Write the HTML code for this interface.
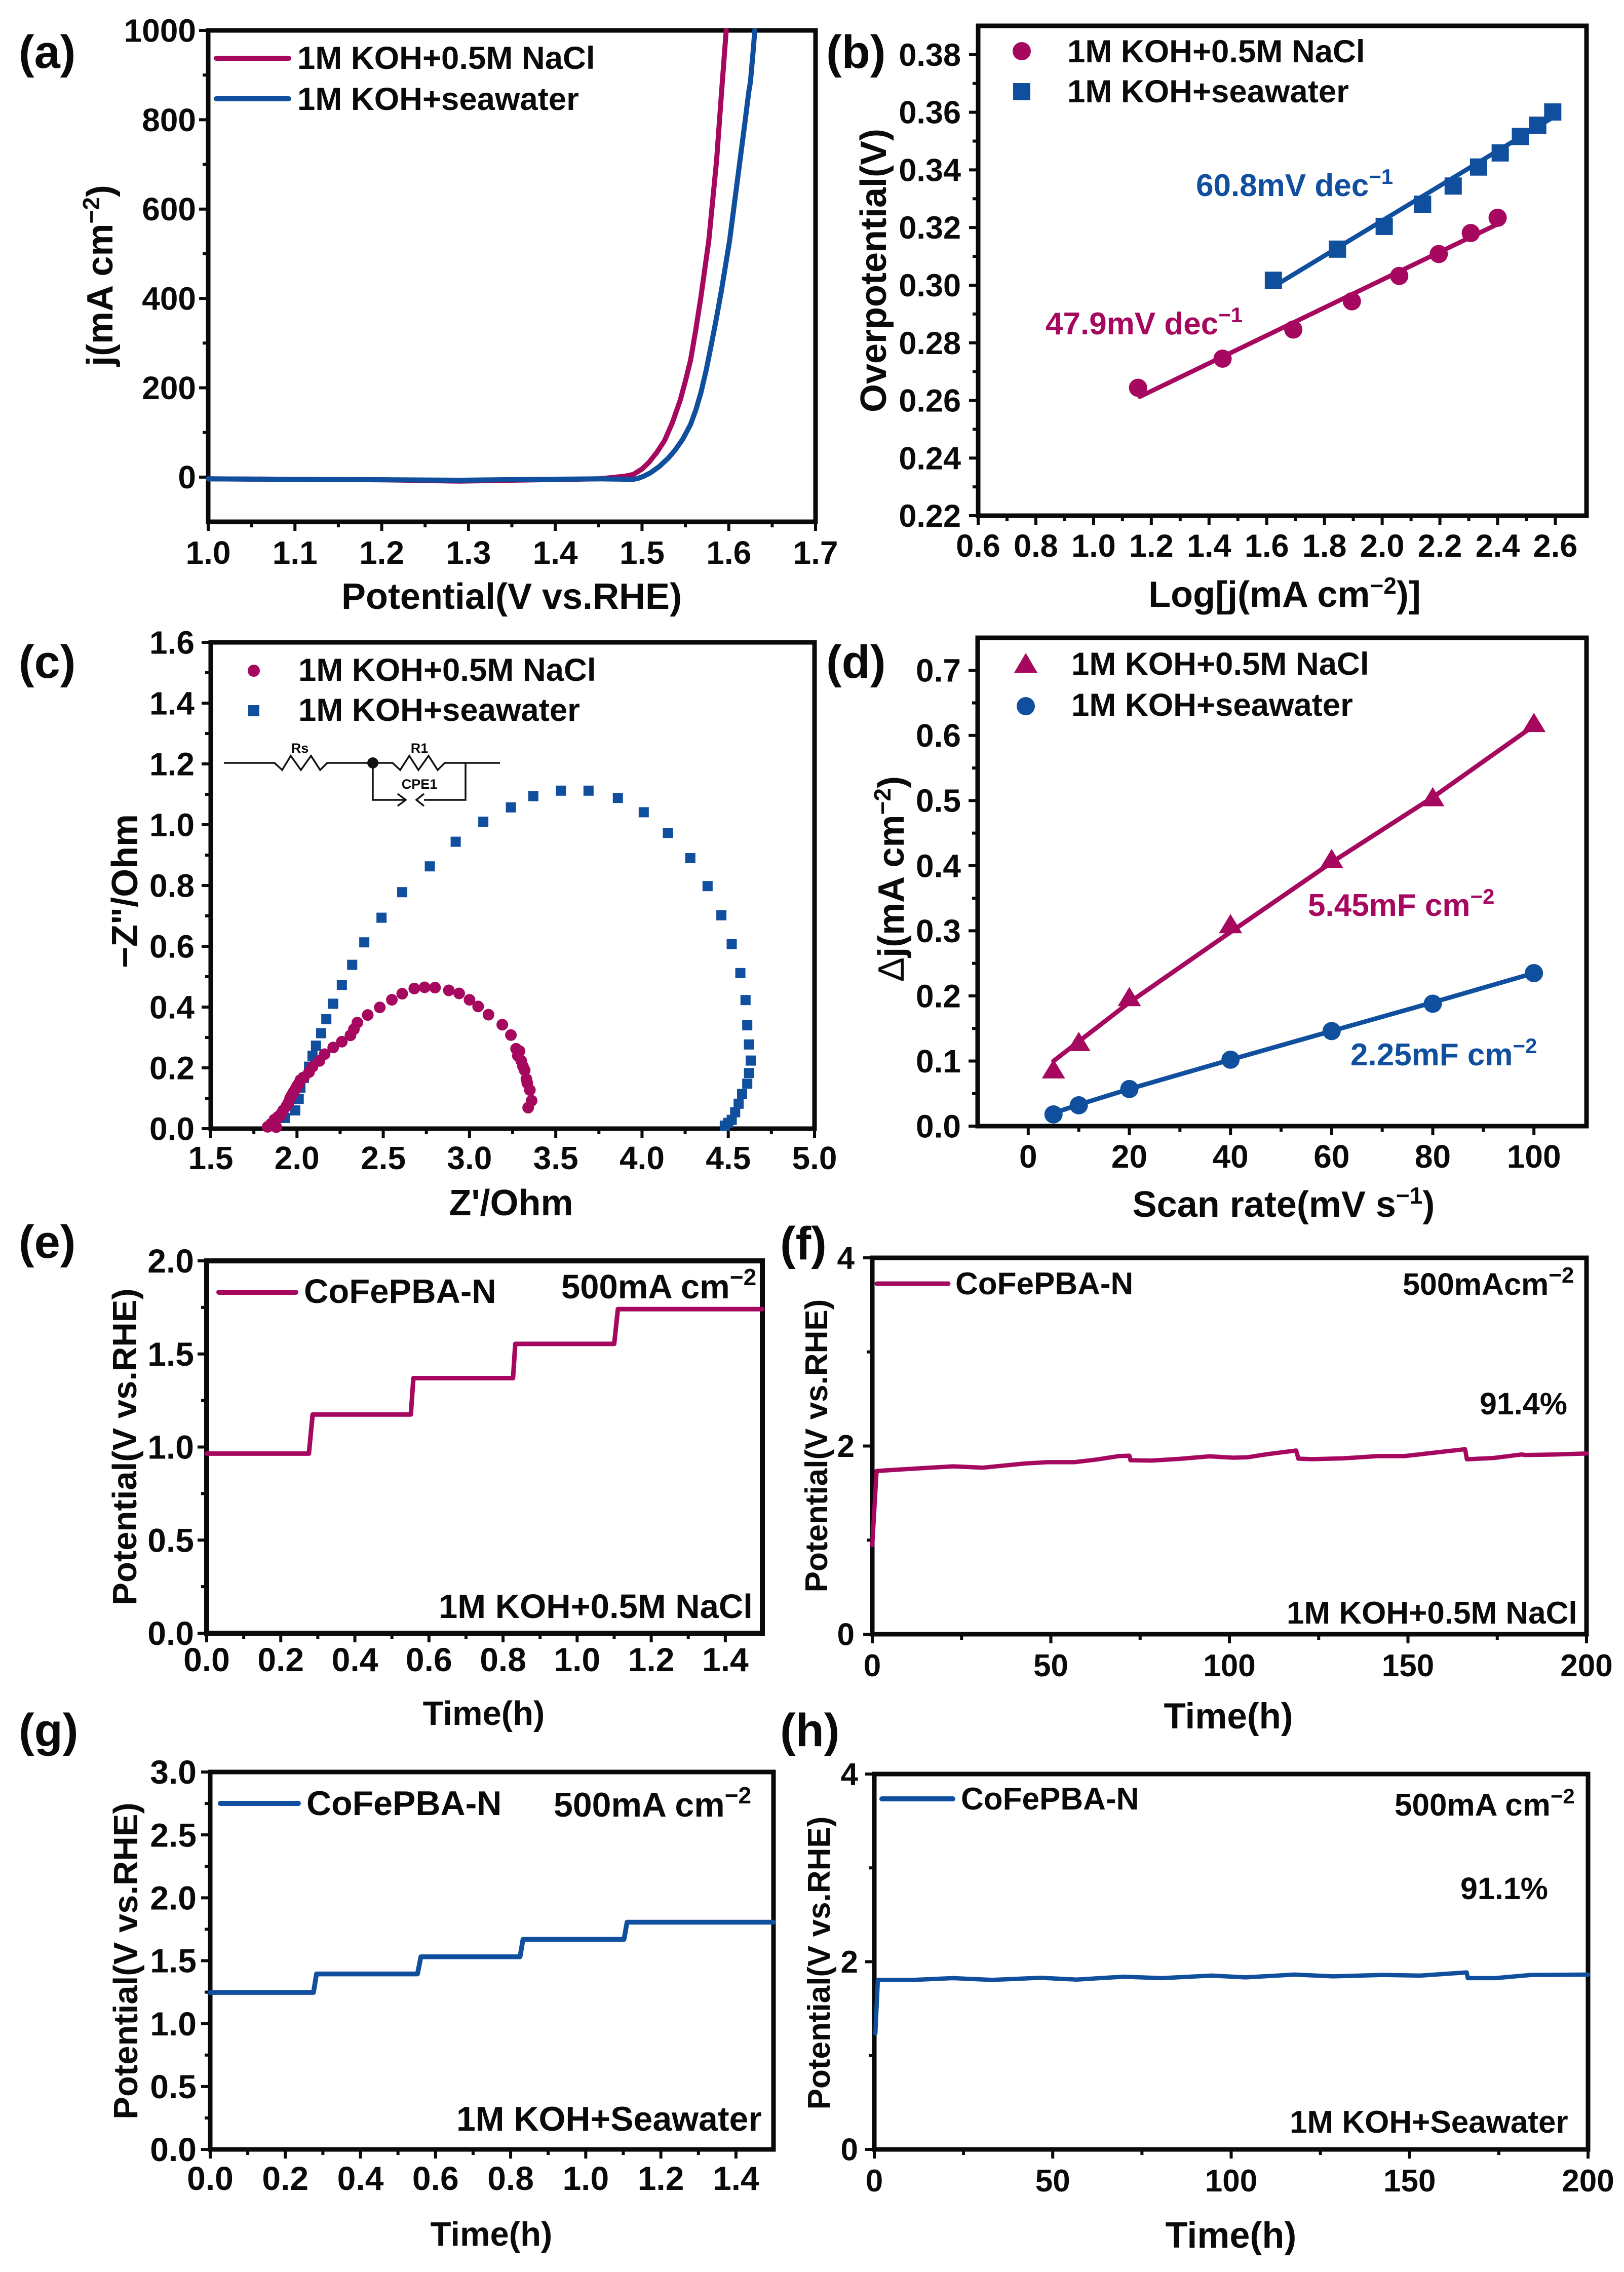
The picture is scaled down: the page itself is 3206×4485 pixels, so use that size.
<!DOCTYPE html>
<html lang="en">
<head>
<meta charset="utf-8">
<title>CoFePBA-N electrochemical performance</title>
<style>
html,body{margin:0;padding:0;background:#fff}
svg{display:block}
text{font-family:"Liberation Sans",sans-serif;font-weight:700;fill:#0a0a0a}
.lab{font-size:92px}
.t72{font-size:72px}
.t63{font-size:63.5px}
.red{fill:#a5085e}
.blue{fill:#104e9e}
</style>
</head>
<body>
<svg id="figure" xmlns="http://www.w3.org/2000/svg" width="3206" height="4485" viewBox="0 0 3206 4485">
<rect width="3206" height="4485" fill="#fff"/>
<g id="marks"></g>

<g>
<text class="lab" x="37" y="134">(a)</text>
<text class="t72" x="1010" y="1202" text-anchor="middle">Potential(V vs.RHE)</text>
<text class="t72" transform="rotate(-90 222 544)" x="222" y="544" text-anchor="middle">j(mA cm<tspan font-size="46" dy="-26">−2</tspan><tspan dy="26">)</tspan></text>
<line x1="427" y1="115" x2="570" y2="115" stroke="#a5085e" stroke-width="10" stroke-linecap="round"/>
<line x1="427" y1="195" x2="570" y2="195" stroke="#104e9e" stroke-width="10" stroke-linecap="round"/>
<text class="t63" x="587" y="136">1M KOH+0.5M NaCl</text>
<text class="t63" x="587" y="217">1M KOH+seawater</text>
</g>

<g>
<text class="lab" x="1631" y="134">(b)</text>
<text class="t72" x="2536" y="1198" text-anchor="middle">Log[j(mA cm<tspan font-size="46" dy="-26">−2</tspan><tspan dy="26">)]</tspan></text>
<text class="t72" transform="rotate(-90 1749 534)" x="1749" y="534" text-anchor="middle">Overpotential(V)</text>
<circle cx="2017" cy="101" r="18" fill="#a5085e"/>
<rect x="2000" y="164" width="34" height="34" fill="#104e9e"/>
<text class="t63" x="2107" y="123">1M KOH+0.5M NaCl</text>
<text class="t63" x="2107" y="202">1M KOH+seawater</text>
<text class="blue" font-size="62" x="2361" y="387">60.8mV dec<tspan font-size="42" dy="-24">−1</tspan></text>
<text class="red" font-size="62" x="2064" y="660">47.9mV dec<tspan font-size="42" dy="-24">−1</tspan></text>
</g>

<g>
<text class="lab" x="37" y="1338">(c)</text>
<text class="t72" x="1009" y="2399" text-anchor="middle">Z'/Ohm</text>
<text class="t72" transform="rotate(-90 271 1759)" x="271" y="1759" text-anchor="middle">−Z"/Ohm</text>
<circle cx="501" cy="1324" r="12" fill="#a5085e"/>
<rect x="490" y="1392" width="22" height="22" fill="#104e9e"/>
<text class="t63" x="589" y="1344">1M KOH+0.5M NaCl</text>
<text class="t63" x="589" y="1423">1M KOH+seawater</text>
<g fill="none" stroke="#111" stroke-width="3.5">
<path d="M442 1506H542L557 1520L574 1492L594 1520L614 1492L632 1520L646 1506H775L790 1520L808 1492L826 1520L846 1492L864 1520L878 1506H987"/>
<path d="M736 1506V1579H801M785 1567L801 1579L785 1591M837 1567L822 1579L837 1591M837 1579H919V1506"/>
<circle cx="736" cy="1506" r="11" fill="#111" stroke="none"/>
</g>
<text font-size="27" x="592" y="1486" text-anchor="middle">Rs</text>
<text font-size="27" x="828" y="1486" text-anchor="middle">R1</text>
<text font-size="27" x="828" y="1557" text-anchor="middle">CPE1</text>
</g>

<g>
<text class="lab" x="1631" y="1338">(d)</text>
<text class="t72" x="2534" y="2402" text-anchor="middle">Scan rate(mV s<tspan font-size="46" dy="-26">−1</tspan><tspan dy="26">)</tspan></text>
<text class="t72" transform="rotate(-90 1784 1735)" x="1784" y="1735" text-anchor="middle"><tspan font-weight="400">Δ</tspan>j(mA cm<tspan font-size="46" dy="-26">−2</tspan><tspan dy="26">)</tspan></text>
<polygon points="2025,1289 2048,1328 2002,1328" fill="#a5085e"/>
<circle cx="2025" cy="1394" r="18" fill="#104e9e"/>
<text class="t63" x="2115" y="1332">1M KOH+0.5M NaCl</text>
<text class="t63" x="2115" y="1413">1M KOH+seawater</text>
<text class="red" font-size="62" x="2582" y="1808">5.45mF cm<tspan font-size="42" dy="-24">−2</tspan></text>
<text class="blue" font-size="62" x="2666" y="2103">2.25mF cm<tspan font-size="42" dy="-24">−2</tspan></text>
</g>

<g>
<text class="lab" x="37" y="2483">(e)</text>
<text font-size="67" x="955" y="3405" text-anchor="middle">Time(h)</text>
<text font-size="67" transform="rotate(-90 269 2856)" x="269" y="2856" text-anchor="middle">Potential(V vs.RHE)</text>
<line x1="432" y1="2551" x2="584" y2="2551" stroke="#a5085e" stroke-width="10" stroke-linecap="round"/>
<text font-size="67" x="600" y="2572">CoFePBA-N</text>
<text font-size="67" x="1108" y="2563">500mA cm<tspan font-size="46" dy="-26">−2</tspan></text>
<text font-size="67" x="866" y="3194">1M KOH+0.5M NaCl</text>
</g>

<g>
<text class="lab" x="1540" y="2486">(f)</text>
<text font-size="71" x="2425" y="3412" text-anchor="middle">Time(h)</text>
<text font-size="62" transform="rotate(-90 1633 2854)" x="1633" y="2854" text-anchor="middle">Potential(V vs.RHE)</text>
<line x1="1731" y1="2534" x2="1872" y2="2534" stroke="#a5085e" stroke-width="9" stroke-linecap="round"/>
<text font-size="62" x="1886" y="2555">CoFePBA-N</text>
<text font-size="61" x="2769" y="2556">500mAcm<tspan font-size="44" dy="-24">−2</tspan></text>
<text font-size="61" x="2921" y="2792">91.4%</text>
<text font-size="62" x="2540" y="3205">1M KOH+0.5M NaCl</text>
</g>

<g>
<text class="lab" x="37" y="3447">(g)</text>
<text font-size="67" x="970" y="4433" text-anchor="middle">Time(h)</text>
<text font-size="67" transform="rotate(-90 271 3871)" x="271" y="3871" text-anchor="middle">Potential(V vs.RHE)</text>
<line x1="435" y1="3560" x2="589" y2="3560" stroke="#104e9e" stroke-width="10" stroke-linecap="round"/>
<text font-size="68" x="605" y="3583">CoFePBA-N</text>
<text font-size="68" x="1093" y="3586">500mA cm<tspan font-size="46" dy="-26">−2</tspan></text>
<text font-size="68" x="901" y="4206">1M KOH+Seawater</text>
</g>

<g>
<text class="lab" x="1540" y="3447">(h)</text>
<text font-size="72" x="2430" y="4437" text-anchor="middle">Time(h)</text>
<text font-size="62" transform="rotate(-90 1638 3875)" x="1638" y="3875" text-anchor="middle">Potential(V vs.RHE)</text>
<line x1="1741" y1="3551" x2="1881" y2="3551" stroke="#104e9e" stroke-width="10" stroke-linecap="round"/>
<text font-size="62" x="1897" y="3572">CoFePBA-N</text>
<text font-size="62" x="2753" y="3584">500mA cm<tspan font-size="42" dy="-24">−2</tspan></text>
<text font-size="61" x="2883" y="3749">91.1%</text>
<text font-size="62" x="2546" y="4210">1M KOH+Seawater</text>
</g>
</svg>

<script>
/* Panel (a) LSV */
const aNaclV = [1.0,1.1,1.2,1.29,1.38,1.45,1.47,1.48,1.49,1.50,1.508,1.517,1.526,1.535,1.544,1.55,1.556,1.562,1.568,1.577,1.586,1.592,1.597];
const aNaclJ = [-4,-5,-6,-9,-6,-4,0,2,6,18,33,55,82,122,172,215,262,330,405,530,710,870,1000];
const aSeaV = [1.0,1.1,1.2,1.29,1.38,1.45,1.49,1.495,1.502,1.51,1.52,1.53,1.538,1.547,1.556,1.562,1.568,1.574,1.58,1.586,1.592,1.601,1.61,1.619,1.623,1.625,1.628,1.63];
const aSeaJ = [-4,-5,-6,-7,-5,-4,-5,-3,2,10,24,42,60,85,118,150,190,240,298,358,423,530,665,800,862,885,952,1000];
const aXTicks = [1.0,1.1,1.2,1.3,1.4,1.5,1.6,1.7];
const aXLabels = ['1.0','1.1','1.2','1.3','1.4','1.5','1.6','1.7'];
const aYTicks = [0,200,400,600,800,1000];
const aYLabels = ['0','200','400','600','800','1000'];

/* Panel (b) Tafel */
const bNaclX = [1.154,1.447,1.692,1.895,2.059,2.196,2.307,2.40];
const bNaclY = [0.2644,0.2745,0.2846,0.2944,0.3032,0.3108,0.3181,0.3234];
const bNaclFitX = [1.16,2.40];
const bNaclFitY = [0.2613,0.3212];
const bSeaX = [1.623,1.845,2.007,2.140,2.246,2.334,2.409,2.479,2.539,2.591];
const bSeaY = [0.3017,0.3125,0.3204,0.3281,0.3344,0.3410,0.3459,0.3516,0.3555,0.3601];
const bSeaFitX = [1.623,2.591];
const bSeaFitY = [0.2995,0.3582];
const bXTicks = [0.6,0.8,1.0,1.2,1.4,1.6,1.8,2.0,2.2,2.4,2.6];
const bXLabels = ['0.6','0.8','1.0','1.2','1.4','1.6','1.8','2.0','2.2','2.4','2.6'];
const bYTicks = [0.22,0.24,0.26,0.28,0.30,0.32,0.34,0.36,0.38];
const bYLabels = ['0.22','0.24','0.26','0.28','0.30','0.32','0.34','0.36','0.38'];

/* Panel (c) Nyquist */
const cNaclZr = [3.34,3.36,3.35,3.335,3.33,3.32,3.31,3.30,3.29,3.28,3.27,3.24,3.19,3.11,3.05,3.00,2.94,2.88,2.80,2.74,2.68,2.61,2.55,2.48,2.41,2.35,2.33,2.31,2.26,2.21,2.16,2.13,2.09,2.07,2.04,2.02,2.01,2.00,1.99,1.98,1.97,1.96,1.95,1.94,1.92,1.91,1.90,1.89,1.87,1.86,1.85,1.83,1.88];
const cNaclZi = [0.069,0.092,0.127,0.150,0.163,0.192,0.205,0.223,0.255,0.240,0.263,0.308,0.342,0.375,0.402,0.424,0.445,0.455,0.464,0.465,0.461,0.444,0.424,0.399,0.374,0.349,0.327,0.307,0.286,0.267,0.245,0.223,0.204,0.186,0.169,0.160,0.148,0.140,0.129,0.120,0.110,0.100,0.085,0.075,0.060,0.050,0.040,0.039,0.030,0.010,0.016,0.006,0.005];
const cSeaZr = [4.48,4.50,4.52,4.54,4.56,4.58,4.61,4.62,4.63,4.62,4.61,4.60,4.57,4.52,4.46,4.38,4.28,4.15,4.01,3.86,3.69,3.53,3.37,3.24,3.08,2.92,2.77,2.61,2.49,2.39,2.32,2.26,2.21,2.17,2.14,2.11,2.09,2.07,2.04,2.02,2.01,1.99,1.93,1.87];
const cSeaZi = [0.010,0.019,0.029,0.054,0.082,0.114,0.148,0.183,0.224,0.277,0.340,0.423,0.512,0.607,0.702,0.798,0.890,0.973,1.041,1.088,1.112,1.112,1.094,1.057,1.010,0.944,0.863,0.778,0.694,0.613,0.539,0.473,0.411,0.360,0.314,0.273,0.240,0.204,0.167,0.135,0.098,0.060,0.035,0.026];
const cXTicks = [1.5,2.0,2.5,3.0,3.5,4.0,4.5,5.0];
const cXLabels = ['1.5','2.0','2.5','3.0','3.5','4.0','4.5','5.0'];
const cYTicks = [0,0.2,0.4,0.6,0.8,1.0,1.2,1.4,1.6];
const cYLabels = ['0.0','0.2','0.4','0.6','0.8','1.0','1.2','1.4','1.6'];

/* Panel (d) double-layer capacitance */
const dScanRate = [5,10,20,40,60,80,100];
const dNacl = [0.088,0.130,0.199,0.311,0.411,0.506,0.620];
const dNaclFit = [0.100,0.130,0.190,0.298,0.405,0.505,0.615];
const dSea = [0.018,0.032,0.057,0.102,0.146,0.188,0.235];
const dSeaFit = [0.020,0.033,0.057,0.102,0.146,0.190,0.235];
const dXTicks = [0,20,40,60,80,100];
const dXLabels = ['0','20','40','60','80','100'];
const dYTicks = [0,0.1,0.2,0.3,0.4,0.5,0.6,0.7];
const dYLabels = ['0.0','0.1','0.2','0.3','0.4','0.5','0.6','0.7'];

/* Panel (e) step test */
const eTime = [0,0.276,0.286,0.551,0.558,0.827,0.833,1.10,1.11,1.5];
const ePotential = [0.965,0.965,1.175,1.175,1.37,1.37,1.554,1.554,1.741,1.741];
const eXTicks = [0,0.2,0.4,0.6,0.8,1.0,1.2,1.4];
const eXLabels = ['0.0','0.2','0.4','0.6','0.8','1.0','1.2','1.4'];
const eYTicks = [0,0.5,1.0,1.5,2.0];
const eYLabels = ['0.0','0.5','1.0','1.5','2.0'];

/* Panel (f) stability */
const fTime = [0,1.2,11.7,22.6,31,42.7,49,56.6,62.8,69,72,72.3,78,86,94.4,101,105,110.7,118.7,119.3,123,132,141.6,149,158.6,166,166.5,174,181.8,183,191,200];
const fPotential = [0.945,1.735,1.76,1.784,1.77,1.814,1.828,1.828,1.856,1.893,1.897,1.849,1.845,1.863,1.89,1.876,1.88,1.914,1.952,1.866,1.86,1.869,1.893,1.893,1.935,1.966,1.859,1.873,1.91,1.904,1.91,1.921];
const fXTicks = [0,50,100,150,200];
const fXLabels = ['0','50','100','150','200'];
const fYTicks = [0,2,4];
const fYLabels = ['0','2','4'];

/* Panel (g) step test */
const gTime = [0,0.275,0.283,0.552,0.561,0.825,0.833,1.102,1.11,1.5];
const gPotential = [1.248,1.248,1.395,1.395,1.531,1.531,1.67,1.67,1.806,1.806];
const gXTicks = [0,0.2,0.4,0.6,0.8,1.0,1.2,1.4];
const gXLabels = ['0.0','0.2','0.4','0.6','0.8','1.0','1.2','1.4'];
const gYTicks = [0,0.5,1.0,1.5,2.0,2.5,3.0];
const gYLabels = ['0.0','0.5','1.0','1.5','2.0','2.5','3.0'];

/* Panel (h) stability */
const hTime = [0.3,1,11,22,33,46.6,56.7,69.8,80.6,94.5,104,117.7,128.5,142.4,153,166,166.3,174,184,200];
const hPotential = [1.236,1.806,1.806,1.825,1.806,1.829,1.81,1.84,1.825,1.852,1.833,1.863,1.844,1.859,1.852,1.886,1.825,1.825,1.859,1.863];
const hXTicks = [0,50,100,150,200];
const hXLabels = ['0','50','100','150','200'];
const hYTicks = [0,2,4];
const hYLabels = ['0','2','4'];

const RED = '#a5085e';
const BLUE = '#104e9e';
const NS = 'http://www.w3.org/2000/svg';
const root = document.getElementById('marks');

function make(parent, tag, attrs, name) {
  const node = document.createElementNS(NS, tag);
  for (const key in attrs) node.setAttribute(key, attrs[key]);
  
  
  parent.appendChild(node);
  return node;
}

function axes(id, f, xTicks, xLabels, yTicks, yLabels) {
  const group = make(root, 'g', {}, 'panel-' + id + '-axes');
  const x = v => f.l + (v - f.x0) / (f.x1 - f.x0) * (f.r - f.l);
  const y = v => f.b - (v - f.y0) / (f.y1 - f.y0) * (f.b - f.t);
  const tick = (x1, y1, x2, y2, name) => make(group, 'line', {x1: x1, y1: y1, x2: x2, y2: y2, stroke: '#0a0a0a', 'stroke-width': 6}, name);
  xTicks.forEach((v, i) => {
    tick(x(v), f.b, x(v), f.b + 18, 'x-tick-' + id);
    if (i + 1 < xTicks.length) tick(x((v + xTicks[i + 1]) / 2), f.b, x((v + xTicks[i + 1]) / 2), f.b + 11, 'x-minor-tick-' + id);
    const label = make(group, 'text', {x: x(v), y: f.xBase, 'text-anchor': 'middle', 'font-size': f.font}, 'x-tick-label-' + id);
    label.textContent = xLabels[i];
  });
  yTicks.forEach((v, i) => {
    tick(f.l, y(v), f.l - 18, y(v), 'y-tick-' + id);
    if (i + 1 < yTicks.length) tick(f.l, y((v + yTicks[i + 1]) / 2), f.l - 11, y((v + yTicks[i + 1]) / 2), 'y-minor-tick-' + id);
    const label = make(group, 'text', {x: f.yRight, y: y(v) + f.font * 0.35, 'text-anchor': 'end', 'font-size': f.font}, 'y-tick-label-' + id);
    label.textContent = yLabels[i];
  });
  make(group, 'rect', {x: f.l, y: f.t, width: f.r - f.l, height: f.b - f.t, fill: 'none', stroke: '#0a0a0a', 'stroke-width': f.sw}, 'plot-frame-' + id);
  return {x: x, y: y, group: group};
}

function curve(ax, xs, ys, color, width, name) {
  const pts = xs.map((v, i) => ax.x(v).toFixed(1) + ',' + ax.y(ys[i]).toFixed(1)).join(' ');
  return make(ax.group, 'polyline', {points: pts, fill: 'none', stroke: color, 'stroke-width': width, 'stroke-linejoin': 'round', 'stroke-linecap': 'round'}, name);
}
function circles(ax, xs, ys, r, color, name) {
  xs.forEach((v, i) => make(ax.group, 'circle', {cx: ax.x(v), cy: ax.y(ys[i]), r: r, fill: color}, name));
}
function squares(ax, xs, ys, side, color, name) {
  xs.forEach((v, i) => make(ax.group, 'rect', {x: ax.x(v) - side / 2, y: ax.y(ys[i]) - side / 2, width: side, height: side, fill: color}, name));
}
function triangles(ax, xs, ys, w, h, color, name) {
  xs.forEach((v, i) => {
    const cx = ax.x(v), cy = ax.y(ys[i]);
    make(ax.group, 'polygon', {points: cx + ',' + (cy - h / 2) + ' ' + (cx + w / 2) + ',' + (cy + h / 2) + ' ' + (cx - w / 2) + ',' + (cy + h / 2), fill: color}, name);
  });
}

const axA = axes('a', {l:411,r:1610,t:60,b:1030,x0:1,x1:1.7,y0:-100,y1:1000,font:64,sw:9,yRight:387,xBase:1113}, aXTicks, aXLabels, aYTicks, aYLabels);
curve(axA, aNaclV, aNaclJ, RED, 10, 'series-nacl-lsv');
curve(axA, aSeaV, aSeaJ, BLUE, 10, 'series-seawater-lsv');

const axB = axes('b', {l:1931,r:3132,t:51,b:1018,x0:0.6,x1:2.708,y0:0.22,y1:0.39,font:63,sw:9,yRight:1897,xBase:1099}, bXTicks, bXLabels, bYTicks, bYLabels);
curve(axB, bNaclFitX, bNaclFitY, RED, 9, 'fit-line-nacl');
curve(axB, bSeaFitX, bSeaFitY, BLUE, 9, 'fit-line-seawater');
circles(axB, bNaclX, bNaclY, 18, RED, 'point-nacl-tafel');
squares(axB, bSeaX, bSeaY, 34, BLUE, 'point-seawater-tafel');

const axC = axes('c', {l:416,r:1608,t:1268,b:2228,x0:1.5,x1:5,y0:0,y1:1.6,font:64,sw:9,yRight:384,xBase:2308}, cXTicks, cXLabels, cYTicks, cYLabels);
squares(axC, cSeaZr, cSeaZi, 20, BLUE, 'point-seawater-nyquist');
circles(axC, cNaclZr, cNaclZi, 11.5, RED, 'point-nacl-nyquist');

const axD = axes('d', {l:1930,r:3132,t:1259,b:2223,x0:-10,x1:110.4,y0:0,y1:0.75,font:64,sw:9,yRight:1897,xBase:2305}, dXTicks, dXLabels, dYTicks, dYLabels);
curve(axD, dScanRate, dNaclFit, RED, 9, 'fit-line-nacl-cdl');
curve(axD, dScanRate, dSeaFit, BLUE, 9, 'fit-line-seawater-cdl');
triangles(axD, dScanRate, dNacl, 46, 38, RED, 'point-nacl-cdl');
circles(axD, dScanRate, dSea, 18, BLUE, 'point-seawater-cdl');

const axE = axes('e', {l:408,r:1505,t:2489,b:3224,x0:0,x1:1.5,y0:0,y1:2,font:66,sw:10,yRight:383,xBase:3299}, eXTicks, eXLabels, eYTicks, eYLabels);
curve(axE, eTime, ePotential, RED, 9, 'series-step-nacl');

const axF = axes('f', {l:1722,r:3132,t:2483,b:3226,x0:0,x1:200,y0:0,y1:4,font:62,sw:9,yRight:1687,xBase:3309}, fXTicks, fXLabels, fYTicks, fYLabels);
curve(axF, fTime, fPotential, RED, 8.5, 'series-stability-nacl');

const axG = axes('g', {l:415,r:1527,t:3498,b:4243,x0:0,x1:1.5,y0:0,y1:3,font:66,sw:9,yRight:388,xBase:4323}, gXTicks, gXLabels, gYTicks, gYLabels);
curve(axG, gTime, gPotential, BLUE, 9.5, 'series-step-seawater');

const axH = axes('h', {l:1726,r:3135,t:3502,b:4243,x0:0,x1:200,y0:0,y1:4,font:62,sw:9,yRight:1694,xBase:4326}, hXTicks, hXLabels, hYTicks, hYLabels);
curve(axH, hTime, hPotential, BLUE, 8.5, 'series-stability-seawater');
</script>
</body>
</html>
